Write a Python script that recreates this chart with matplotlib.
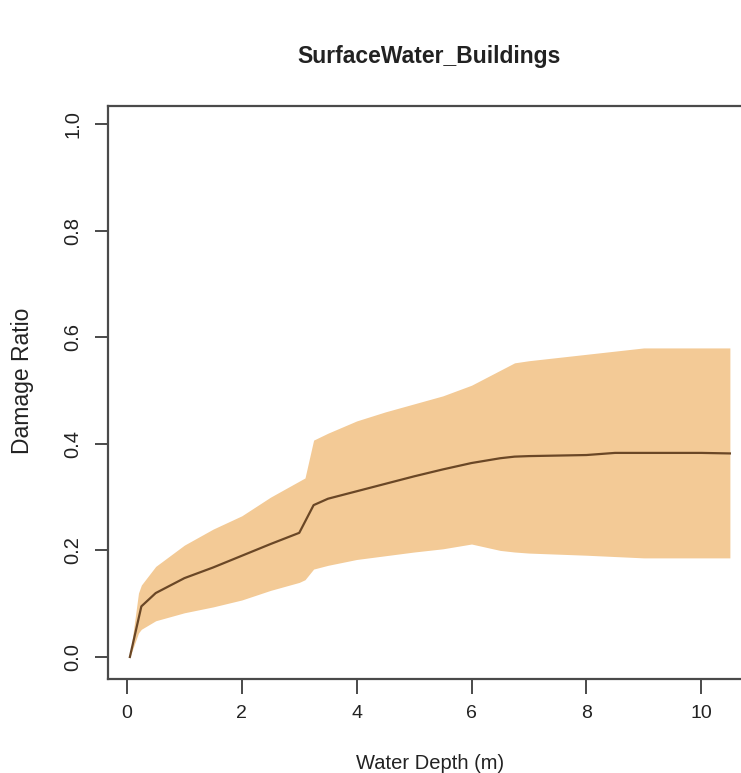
import matplotlib
matplotlib.use("Agg")
import matplotlib.pyplot as plt

# ---- data ----
mean_depth = [0.05, 0.25, 0.5, 1.0, 1.5, 2.0, 2.5, 3.0, 3.25, 3.5, 4.0, 4.5, 5.0,
              5.5, 6.0, 6.5, 6.75, 7.0, 8.0, 8.5, 9.0, 10.0, 10.5]
mean_ratio = [0.0, 0.095, 0.12, 0.148, 0.168, 0.19, 0.212, 0.233, 0.285, 0.297, 0.311,
              0.325, 0.339, 0.352, 0.364, 0.373, 0.376, 0.377, 0.379, 0.383, 0.383,
              0.383, 0.382]

band_depth = [0.05, 0.2, 0.25, 0.5, 1.0, 1.5, 2.0, 2.5, 3.0, 3.1, 3.25, 3.5, 4.0, 4.5,
              5.0, 5.5, 6.0, 6.5, 6.75, 7.0, 8.0, 9.0, 10.5]
band_upper = [0.0, 0.12, 0.135, 0.17, 0.21, 0.24, 0.265, 0.30, 0.33, 0.336, 0.407,
              0.42, 0.443, 0.46, 0.475, 0.49, 0.51, 0.538, 0.552, 0.556, 0.568, 0.58,
              0.58]
band_lower = [0.0, 0.045, 0.052, 0.068, 0.083, 0.094, 0.107, 0.125, 0.14, 0.145,
              0.165, 0.172, 0.183, 0.19, 0.197, 0.203, 0.212, 0.2, 0.197, 0.195,
              0.191, 0.186, 0.186]

x_ticks = [0, 2, 4, 6, 8, 10]
y_ticks = [0.0, 0.2, 0.4, 0.6, 0.8, 1.0]
y_tick_labels = ["0.0", "0.2", "0.4", "0.6", "0.8", "1.0"]

title = "SurfaceWater_Buildings"
x_label = "Water Depth (m)"
y_label = "Damage Ratio"

# ---- figure ----
W, H = 741, 773
fig = plt.figure(figsize=(W / 100, H / 100), dpi=100)
fig.patch.set_facecolor("white")
plt.rcParams["font.family"] = ["Liberation Sans", "DejaVu Sans"]

left_px, right_px, top_px, bottom_px = 108, 754, 106, 679
ax = fig.add_axes([left_px / W, 1 - bottom_px / H,
                   (right_px - left_px) / W, (bottom_px - top_px) / H])

band_col = "#F3CA96"
line_col = "#6A4726"
axis_col = "#4a4a4a"
text_col = "#222222"

ax.fill_between(band_depth, band_lower, band_upper, color=band_col, linewidth=0)
ax.plot(mean_depth, mean_ratio, color=line_col, linewidth=1.6)

ax.set_xlim(-0.331, 10.92)
ax.set_ylim(-0.0413, 1.034)

ax.set_xticks(x_ticks)
ax.set_yticks(y_ticks)
ax.set_yticklabels(y_tick_labels)

for s in ax.spines.values():
    s.set_color(axis_col)
    s.set_linewidth(1.6)

ax.tick_params(axis="x", direction="out", length=10.5, width=1.4, color=axis_col,
               labelsize=14, labelcolor=text_col, pad=8)
ax.tick_params(axis="y", direction="out", length=9.5, width=1.4, color=axis_col,
               labelsize=14.5, labelcolor=text_col, pad=9)
for lab in ax.get_yticklabels():
    lab.set_rotation(90)
    lab.set_va("center")
    lab.set_ha("right")

ax.set_xlabel(x_label, fontsize=14.5, color=text_col)
ax.xaxis.set_label_coords(0.4986, -0.1466)
ax.xaxis.label.set_va("center")

ax.set_ylabel(y_label, fontsize=16.5, color=text_col)
ax.yaxis.set_label_coords(-0.1316, 0.52)
ax.yaxis.label.set_va("center")

fig.text(429 / W, 1 - 57 / H, title, ha="center", va="center",
         fontsize=16.5, fontweight="bold", color=text_col)

fig.savefig("out.png", dpi=100, facecolor="white")
